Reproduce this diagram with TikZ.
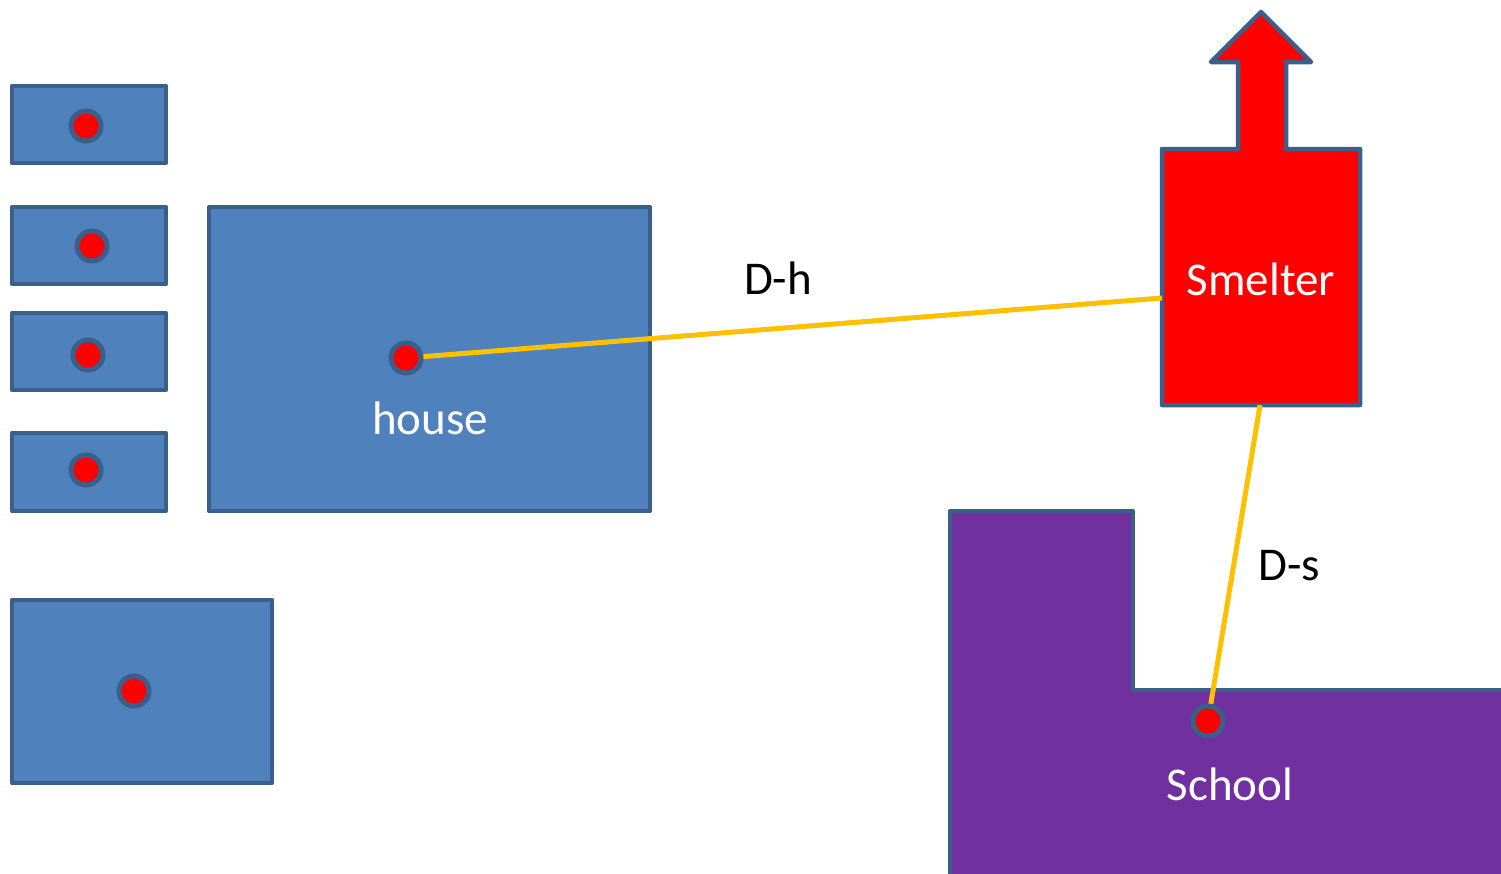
\documentclass[tikz,border=0pt]{standalone}
\usepackage{fontspec}
\setmainfont{Carlito}
\definecolor{edge}{HTML}{3A5F8B}
\definecolor{bluefill}{HTML}{4F81BD}
\definecolor{schoolfill}{HTML}{7030A0}
\definecolor{linkcol}{HTML}{FFC000}
\begin{document}
\begin{tikzpicture}[x=1pt,y=-1pt,
  block/.style={draw=edge,line width=4.5pt,line join=round,fill=bluefill},
  source/.style={circle,draw=edge,line width=5pt,fill=red,minimum size=30pt,inner sep=0pt},
  link/.style={draw=linkcol,line width=5pt},
  lbl/.style={font=\fontsize{47}{52}\selectfont,inner sep=0pt},
  wlbl/.style={lbl,text=white}]
\useasboundingbox (0,0) rectangle (1501,873);

% small buildings on the left
\draw[block] (12,86) rectangle (166,163);
\draw[block] (12,207) rectangle (166,284);
\draw[block] (12,313) rectangle (166,390);
\draw[block] (12,433) rectangle (166,511);
\draw[block] (12,600) rectangle (272,783);
% the house
\draw[block] (209,207) rectangle (650,511);
\node[wlbl] (houselbl) at (430,418) {house};

% smelter with its chimney arrow
\draw[draw=edge,line width=4.5pt,line join=round,fill=red]
  (1162,149) -- (1238,149) -- (1238,62) -- (1211,62) -- (1261,12) -- (1311,62)
  -- (1286,62) -- (1286,149) -- (1360,149) -- (1360,405) -- (1162,405) -- cycle;
\coordinate (smW) at (1162,298);
\coordinate (smS) at (1260,405);
\node[wlbl] (smlbl) at (1261,279) {Smelter};

% school
\draw[draw=edge,line width=4.5pt,line join=round,fill=schoolfill]
  (950,511) -- (1133,511) -- (1133,690) -- (1510,690) -- (1510,880) -- (950,880) -- cycle;
\node[wlbl] (schoollbl) at (1230,784) {School};

% distance links
\draw[link] (406,358) -- (smW);
\draw[link] (smS) -- (1208,721);
\node[lbl] (dh) at (778,278) {D-h};
\node[lbl] (ds) at (1289,566) {D-s};

% emission receptors
\node[source] (r1) at (86,126) {};
\node[source] (r2) at (92,246) {};
\node[source] (r3) at (88,355) {};
\node[source] (r4) at (86,470) {};
\node[source] (r5) at (134,691) {};
\node[source] (rh) at (406,358) {};
\node[source] (rs) at (1208,721) {};
\end{tikzpicture}
\end{document}
